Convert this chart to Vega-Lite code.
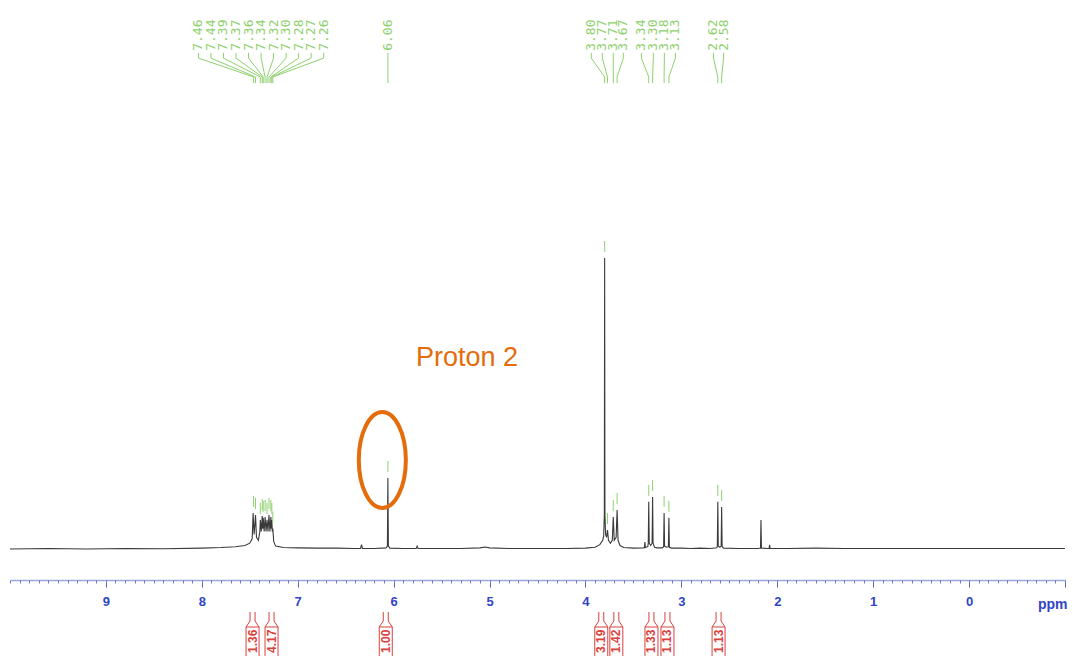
{
  "$schema": "https://vega.github.io/schema/vega-lite/v6.json",
  "width": 1055,
  "height": 580,
  "autosize": {"type": "none"},
  "padding": {"left": 10, "right": 8, "top": 0, "bottom": 76},
  "background": "white",
  "config": {"view": {"stroke": null}, "font": "Liberation Sans"},
  "resolve": {"axis": {"x": "independent"}},
  "datasets": {
    "spectrum": [
      {"ppm": 10.0, "i": 0.0}, {"ppm": 9.6, "i": 0.002}, {"ppm": 9.2, "i": 0.0}, {"ppm": 8.8, "i": 0.002},
      {"ppm": 8.4, "i": 0.001}, {"ppm": 8.0, "i": 0.003}, {"ppm": 7.8, "i": 0.005}, {"ppm": 7.65, "i": 0.008},
      {"ppm": 7.55, "i": 0.012}, {"ppm": 7.5, "i": 0.02}, {"ppm": 7.475, "i": 0.035}, {"ppm": 7.465, "i": 0.124},
      {"ppm": 7.455, "i": 0.05}, {"ppm": 7.45, "i": 0.07}, {"ppm": 7.44, "i": 0.117}, {"ppm": 7.43, "i": 0.04},
      {"ppm": 7.41, "i": 0.03}, {"ppm": 7.395, "i": 0.06}, {"ppm": 7.39, "i": 0.1}, {"ppm": 7.38, "i": 0.06},
      {"ppm": 7.37, "i": 0.113}, {"ppm": 7.365, "i": 0.07}, {"ppm": 7.36, "i": 0.107}, {"ppm": 7.35, "i": 0.06},
      {"ppm": 7.34, "i": 0.11}, {"ppm": 7.33, "i": 0.06}, {"ppm": 7.32, "i": 0.1}, {"ppm": 7.31, "i": 0.06},
      {"ppm": 7.3, "i": 0.117}, {"ppm": 7.29, "i": 0.06}, {"ppm": 7.28, "i": 0.11}, {"ppm": 7.275, "i": 0.07},
      {"ppm": 7.27, "i": 0.1}, {"ppm": 7.265, "i": 0.06}, {"ppm": 7.26, "i": 0.07}, {"ppm": 7.25, "i": 0.025},
      {"ppm": 7.23, "i": 0.01}, {"ppm": 7.15, "i": 0.005}, {"ppm": 7.0, "i": 0.004}, {"ppm": 6.8, "i": 0.003},
      {"ppm": 6.6, "i": 0.003}, {"ppm": 6.4, "i": 0.002}, {"ppm": 6.345, "i": 0.002}, {"ppm": 6.335, "i": 0.015},
      {"ppm": 6.325, "i": 0.002}, {"ppm": 6.2, "i": 0.002}, {"ppm": 6.08, "i": 0.004}, {"ppm": 6.065, "i": 0.01},
      {"ppm": 6.06, "i": 0.244}, {"ppm": 6.055, "i": 0.01}, {"ppm": 6.04, "i": 0.003}, {"ppm": 5.9, "i": 0.002},
      {"ppm": 5.765, "i": 0.002}, {"ppm": 5.755, "i": 0.01}, {"ppm": 5.745, "i": 0.002}, {"ppm": 5.6, "i": 0.002},
      {"ppm": 5.3, "i": 0.002}, {"ppm": 5.1, "i": 0.004}, {"ppm": 5.05, "i": 0.007}, {"ppm": 5.0, "i": 0.004},
      {"ppm": 4.8, "i": 0.002}, {"ppm": 4.5, "i": 0.002}, {"ppm": 4.2, "i": 0.002}, {"ppm": 4.0, "i": 0.003},
      {"ppm": 3.9, "i": 0.006}, {"ppm": 3.85, "i": 0.015}, {"ppm": 3.82, "i": 0.03}, {"ppm": 3.81, "i": 0.045},
      {"ppm": 3.803, "i": 0.12}, {"ppm": 3.8, "i": 1.0}, {"ppm": 3.797, "i": 0.12}, {"ppm": 3.79, "i": 0.05},
      {"ppm": 3.78, "i": 0.04}, {"ppm": 3.77, "i": 0.065}, {"ppm": 3.76, "i": 0.03}, {"ppm": 3.74, "i": 0.02},
      {"ppm": 3.72, "i": 0.03}, {"ppm": 3.71, "i": 0.11}, {"ppm": 3.7, "i": 0.03}, {"ppm": 3.68, "i": 0.04},
      {"ppm": 3.67, "i": 0.134}, {"ppm": 3.66, "i": 0.03}, {"ppm": 3.64, "i": 0.012}, {"ppm": 3.6, "i": 0.005},
      {"ppm": 3.5, "i": 0.003}, {"ppm": 3.4, "i": 0.004}, {"ppm": 3.385, "i": 0.005}, {"ppm": 3.38, "i": 0.024},
      {"ppm": 3.375, "i": 0.005}, {"ppm": 3.35, "i": 0.008}, {"ppm": 3.345, "i": 0.02}, {"ppm": 3.34, "i": 0.162},
      {"ppm": 3.335, "i": 0.02}, {"ppm": 3.32, "i": 0.012}, {"ppm": 3.305, "i": 0.02}, {"ppm": 3.3, "i": 0.179},
      {"ppm": 3.295, "i": 0.02}, {"ppm": 3.28, "i": 0.006}, {"ppm": 3.25, "i": 0.004}, {"ppm": 3.2, "i": 0.004},
      {"ppm": 3.185, "i": 0.008}, {"ppm": 3.18, "i": 0.124}, {"ppm": 3.175, "i": 0.01}, {"ppm": 3.155, "i": 0.006},
      {"ppm": 3.135, "i": 0.008}, {"ppm": 3.13, "i": 0.107}, {"ppm": 3.125, "i": 0.006}, {"ppm": 3.1, "i": 0.003},
      {"ppm": 3.0, "i": 0.003}, {"ppm": 2.9, "i": 0.002}, {"ppm": 2.8, "i": 0.003}, {"ppm": 2.7, "i": 0.002},
      {"ppm": 2.63, "i": 0.004}, {"ppm": 2.625, "i": 0.01}, {"ppm": 2.62, "i": 0.162}, {"ppm": 2.615, "i": 0.01},
      {"ppm": 2.6, "i": 0.006}, {"ppm": 2.585, "i": 0.01}, {"ppm": 2.58, "i": 0.144}, {"ppm": 2.575, "i": 0.008},
      {"ppm": 2.56, "i": 0.003}, {"ppm": 2.4, "i": 0.002}, {"ppm": 2.3, "i": 0.002}, {"ppm": 2.2, "i": 0.002},
      {"ppm": 2.175, "i": 0.003}, {"ppm": 2.17, "i": 0.1}, {"ppm": 2.165, "i": 0.003}, {"ppm": 2.1, "i": 0.002},
      {"ppm": 2.085, "i": 0.002}, {"ppm": 2.08, "i": 0.014}, {"ppm": 2.075, "i": 0.002}, {"ppm": 1.9, "i": 0.002},
      {"ppm": 1.6, "i": 0.003}, {"ppm": 1.3, "i": 0.002}, {"ppm": 1.0, "i": 0.002}, {"ppm": 0.7, "i": 0.002},
      {"ppm": 0.4, "i": 0.002}, {"ppm": 0.0, "i": 0.002}, {"ppm": -0.3, "i": 0.002}, {"ppm": -0.6, "i": 0.002},
      {"ppm": -1.0, "i": 0.002}
    ],
    "peaks": [
      {"ppm": 7.46, "h": 0.124, "label": "7.46", "lx": 8.035},
      {"ppm": 7.44, "h": 0.117, "label": "7.44", "lx": 7.905},
      {"ppm": 7.39, "h": 0.1, "label": "7.39", "lx": 7.774},
      {"ppm": 7.37, "h": 0.113, "label": "7.37", "lx": 7.644},
      {"ppm": 7.36, "h": 0.107, "label": "7.36", "lx": 7.513},
      {"ppm": 7.34, "h": 0.11, "label": "7.34", "lx": 7.382},
      {"ppm": 7.32, "h": 0.1, "label": "7.32", "lx": 7.252},
      {"ppm": 7.3, "h": 0.117, "label": "7.30", "lx": 7.121},
      {"ppm": 7.28, "h": 0.11, "label": "7.28", "lx": 6.991},
      {"ppm": 7.27, "h": 0.1, "label": "7.27", "lx": 6.86},
      {"ppm": 7.26, "h": 0.07, "label": "7.26", "lx": 6.729},
      {"ppm": 6.06, "h": 0.244, "label": "6.06", "lx": 6.06},
      {"ppm": 3.8, "h": 1.0, "label": "3.80", "lx": 3.939},
      {"ppm": 3.77, "h": 0.065, "label": "3.77", "lx": 3.824},
      {"ppm": 3.71, "h": 0.11, "label": "3.71", "lx": 3.71},
      {"ppm": 3.67, "h": 0.134, "label": "3.67", "lx": 3.605},
      {"ppm": 3.34, "h": 0.162, "label": "3.34", "lx": 3.417},
      {"ppm": 3.3, "h": 0.179, "label": "3.30", "lx": 3.292},
      {"ppm": 3.18, "h": 0.124, "label": "3.18", "lx": 3.177},
      {"ppm": 3.13, "h": 0.107, "label": "3.13", "lx": 3.062},
      {"ppm": 2.62, "h": 0.162, "label": "2.62", "lx": 2.665},
      {"ppm": 2.58, "h": 0.144, "label": "2.58", "lx": 2.56}
    ],
    "integrals": [
      {"c": 7.471, "v": "1.36"},
      {"c": 7.273, "v": "4.17"},
      {"c": 6.082, "v": "1.00"},
      {"c": 3.835, "v": "3.19"},
      {"c": 3.678, "v": "1.42"},
      {"c": 3.312, "v": "1.33"},
      {"c": 3.145, "v": "1.13"},
      {"c": 2.612, "v": "1.13"}
    ]
  },
  "layer": [
    {
      "data": {"name": "spectrum"},
      "mark": {"type": "line", "color": "#3a3a3a", "strokeWidth": 1.1},
      "encoding": {
        "x": {"field": "ppm", "type": "quantitative", "scale": {"domain": [10, -1], "nice": false, "zero": false},
          "axis": {"orient": "bottom", "values": [9, 8, 7, 6, 5, 4, 3, 2, 1, 0, -1], "labelExpr": "datum.value < 0 ? '' : format(datum.value, 'd')",
            "grid": false, "domainColor": "#9aa6dc", "domainWidth": 1.3, "tickColor": "#5566c8", "tickSize": 7, "tickWidth": 1,
            "labelColor": "#2f45c6", "labelFont": "Liberation Sans", "labelFontSize": 13, "labelFontWeight": "bold", "labelPadding": 8,
            "labelOverlap": false,
            "title": "ppm", "titleColor": "#2f45c6", "titleFont": "Liberation Sans", "titleFontSize": 14, "titleFontWeight": "bold",
            "titleAngle": 0, "titleAlign": "right", "titleBaseline": "alphabetic", "titleX": 1057, "titleY": 28}},
        "y": {"field": "i", "type": "quantitative", "scale": {"domain": [-0.1065, 1.8866], "nice": false, "zero": false}, "axis": null}
      }
    },
    {
      "data": {"name": "peaks"},
      "mark": {"type": "rule", "color": "#8fd16f", "strokeWidth": 1, "yOffset": -6, "y2Offset": -17},
      "encoding": {
        "x": {"field": "ppm", "type": "quantitative", "scale": {"domain": [10, -1], "nice": false, "zero": false},
          "axis": {"orient": "bottom", "tickCount": 110, "labels": false, "domain": false, "grid": false, "tickSize": 3, "tickColor": "#6a78d0", "title": null}},
        "y": {"field": "h", "type": "quantitative", "scale": {"domain": [-0.1065, 1.8866], "nice": false, "zero": false}, "axis": null},
        "y2": {"field": "h"}
      }
    },
    {
      "data": {"name": "peaks"},
      "mark": {"type": "rule", "color": "#8fd16f", "strokeWidth": 1},
      "encoding": {
        "x": {"field": "lx", "type": "quantitative", "scale": {"domain": [10, -1], "nice": false, "zero": false}, "axis": null},
        "y": {"datum": 1.705, "type": "quantitative", "scale": {"domain": [-0.1065, 1.8866], "nice": false, "zero": false}, "axis": null},
        "y2": {"datum": 1.687}
      }
    },
    {
      "data": {"name": "peaks"},
      "mark": {"type": "rule", "color": "#8fd16f", "strokeWidth": 1},
      "encoding": {
        "x": {"field": "lx", "type": "quantitative", "scale": {"domain": [10, -1], "nice": false, "zero": false}, "axis": null},
        "x2": {"field": "ppm"},
        "y": {"datum": 1.687, "type": "quantitative", "scale": {"domain": [-0.1065, 1.8866], "nice": false, "zero": false}, "axis": null},
        "y2": {"datum": 1.622}
      }
    },
    {
      "data": {"name": "peaks"},
      "mark": {"type": "rule", "color": "#8fd16f", "strokeWidth": 1},
      "encoding": {
        "x": {"field": "ppm", "type": "quantitative", "scale": {"domain": [10, -1], "nice": false, "zero": false}, "axis": null},
        "y": {"datum": 1.622, "type": "quantitative", "scale": {"domain": [-0.1065, 1.8866], "nice": false, "zero": false}, "axis": null},
        "y2": {"datum": 1.601}
      }
    },
    {
      "data": {"name": "peaks"},
      "mark": {"type": "text", "color": "#8fd16f", "angle": 270, "align": "left", "baseline": "middle", "font": "DejaVu Sans Mono", "fontSize": 13},
      "encoding": {
        "x": {"field": "lx", "type": "quantitative", "scale": {"domain": [10, -1], "nice": false, "zero": false}, "axis": null},
        "y": {"datum": 1.712, "type": "quantitative", "scale": {"domain": [-0.1065, 1.8866], "nice": false, "zero": false}, "axis": null},
        "text": {"field": "label"}
      }
    },
    {
      "data": {"name": "integrals"},
      "mark": {"type": "rect", "width": 13, "fillOpacity": 0, "stroke": "#d9413c", "strokeWidth": 1},
      "encoding": {
        "x": {"field": "c", "type": "quantitative", "scale": {"domain": [10, -1], "nice": false, "zero": false}, "axis": null},
        "y": {"datum": -0.268, "type": "quantitative", "scale": {"domain": [-0.1065, 1.8866], "nice": false, "zero": false}, "axis": null},
        "y2": {"datum": -0.4}
      }
    },
    {
      "data": {"name": "integrals"},
      "mark": {"type": "rule", "color": "#d9413c", "strokeWidth": 1, "xOffset": -2.5},
      "encoding": {
        "x": {"field": "c", "type": "quantitative", "scale": {"domain": [10, -1], "nice": false, "zero": false}, "axis": null},
        "y": {"datum": -0.2165, "type": "quantitative", "scale": {"domain": [-0.1065, 1.8866], "nice": false, "zero": false}, "axis": null},
        "y2": {"datum": -0.2474}
      }
    },
    {
      "data": {"name": "integrals"},
      "mark": {"type": "rule", "color": "#d9413c", "strokeWidth": 1, "xOffset": 2.5},
      "encoding": {
        "x": {"field": "c", "type": "quantitative", "scale": {"domain": [10, -1], "nice": false, "zero": false}, "axis": null},
        "y": {"datum": -0.2165, "type": "quantitative", "scale": {"domain": [-0.1065, 1.8866], "nice": false, "zero": false}, "axis": null},
        "y2": {"datum": -0.2474}
      }
    },
    {
      "data": {"name": "integrals"},
      "mark": {"type": "rule", "color": "#d9413c", "strokeWidth": 1, "xOffset": -2.5, "x2Offset": -6.5},
      "encoding": {
        "x": {"field": "c", "type": "quantitative", "scale": {"domain": [10, -1], "nice": false, "zero": false}, "axis": null},
        "x2": {"field": "c"},
        "y": {"datum": -0.2474, "type": "quantitative", "scale": {"domain": [-0.1065, 1.8866], "nice": false, "zero": false}, "axis": null},
        "y2": {"datum": -0.268}
      }
    },
    {
      "data": {"name": "integrals"},
      "mark": {"type": "rule", "color": "#d9413c", "strokeWidth": 1, "xOffset": 2.5, "x2Offset": 6.5},
      "encoding": {
        "x": {"field": "c", "type": "quantitative", "scale": {"domain": [10, -1], "nice": false, "zero": false}, "axis": null},
        "x2": {"field": "c"},
        "y": {"datum": -0.2474, "type": "quantitative", "scale": {"domain": [-0.1065, 1.8866], "nice": false, "zero": false}, "axis": null},
        "y2": {"datum": -0.268}
      }
    },
    {
      "data": {"name": "integrals"},
      "mark": {"type": "text", "color": "#d9413c", "angle": 270, "align": "center", "baseline": "middle", "font": "Liberation Sans", "fontSize": 12, "fontWeight": "bold"},
      "encoding": {
        "x": {"field": "c", "type": "quantitative", "scale": {"domain": [10, -1], "nice": false, "zero": false}, "axis": null},
        "y": {"datum": -0.317, "type": "quantitative", "scale": {"domain": [-0.1065, 1.8866], "nice": false, "zero": false}, "axis": null},
        "text": {"field": "v"}
      }
    },
    {
      "data": {"values": [{"note": "Proton 2"}]},
      "mark": {"type": "text", "color": "#e46c0a", "align": "center", "baseline": "alphabetic", "font": "Liberation Sans", "fontSize": 27},
      "encoding": {
        "x": {"datum": 5.235, "type": "quantitative", "scale": {"domain": [10, -1], "nice": false, "zero": false}, "axis": null},
        "y": {"datum": 0.629, "type": "quantitative", "scale": {"domain": [-0.1065, 1.8866], "nice": false, "zero": false}, "axis": null},
        "text": {"field": "note"}
      }
    },
    {
      "data": {"values": [{"note": "ellipse"}]},
      "mark": {"type": "point", "shape": "M0,-1C0.2706,-1 0.49,-0.5523 0.49,0C0.49,0.5523 0.2706,1 0,1C-0.2706,1 -0.49,0.5523 -0.49,0C-0.49,-0.5523 -0.2706,-1 0,-1Z",
        "size": 9216, "filled": false, "stroke": "#e46c0a", "strokeWidth": 4, "opacity": 1},
      "encoding": {
        "x": {"datum": 6.118, "type": "quantitative", "scale": {"domain": [10, -1], "nice": false, "zero": false}, "axis": null},
        "y": {"datum": 0.306, "type": "quantitative", "scale": {"domain": [-0.1065, 1.8866], "nice": false, "zero": false}, "axis": null}
      }
    }
  ]
}
